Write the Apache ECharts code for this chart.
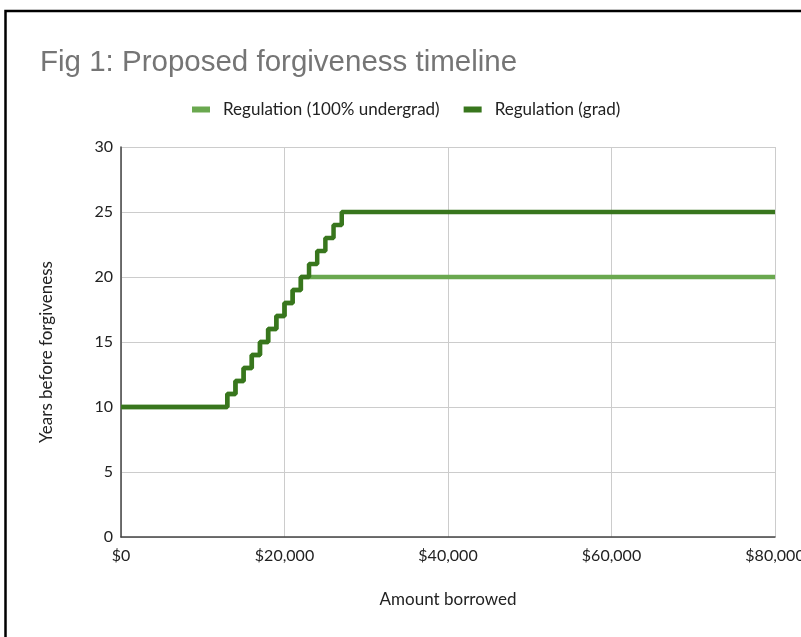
<!DOCTYPE html>
<html><head><meta charset="utf-8">
<script src="https://cdn.jsdelivr.net/npm/echarts@6/dist/echarts.min.js"></script>
<style>html,body{margin:0;padding:0;background:#fff;overflow:hidden;}#c{width:801px;height:637px;}</style>
</head><body><div id="c"></div>
<script>
// Amount borrowed ($) at which each step begins, and years before forgiveness
const undergradX = [0, 13000, 14000, 15000, 16000, 17000, 18000, 19000, 20000, 21000, 22000, 80000];
const undergradY = [10, 11, 12, 13, 14, 15, 16, 17, 18, 19, 20, 20];
const gradX = [0, 13000, 14000, 15000, 16000, 17000, 18000, 19000, 20000, 21000, 22000, 23000, 24000, 25000, 26000, 27000, 80000];
const gradY = [10, 11, 12, 13, 14, 15, 16, 17, 18, 19, 20, 21, 22, 23, 24, 25, 25];
const seriesNames = ['Regulation (100% undergrad)', 'Regulation (grad)'];

const font = 'Lato, "Open Sans", sans-serif';
const chart = echarts.init(document.getElementById('c'));
chart.setOption({
  animation: false,
  backgroundColor: '#fff',
  graphic: [{
    type: 'rect', z: -1, silent: true,
    shape: { x: 5.5, y: 11, width: 900, height: 700 },
    style: { fill: 'none', stroke: '#000', lineWidth: 2.5 }
  }],
  title: {
    text: 'Fig 1: Proposed forgiveness timeline',
    left: 35, top: 43,
    textStyle: { fontFamily: 'Liberation Sans, Arial, sans-serif', fontWeight: 'normal', fontSize: 29.5, color: '#757575' }
  },
  legend: {
    top: 96, left: 187,
    itemWidth: 18, itemHeight: 6, itemGap: 24,
    icon: 'rect',
    textStyle: { fontFamily: font, fontSize: 17, color: '#222', padding: [0, 0, 0, 8] },
    data: seriesNames
  },
  grid: { left: 121, top: 147, right: 26, bottom: 100, containLabel: false, outerBoundsMode: 'none' },
  xAxis: {
    type: 'value', min: 0, max: 80000, interval: 20000,
    name: 'Amount borrowed', nameLocation: 'middle', nameGap: 54,
    nameTextStyle: { fontFamily: font, fontSize: 17, color: '#222' },
    axisLine: { show: true, lineStyle: { color: '#444', width: 1.5 } },
    axisTick: { show: false },
    axisLabel: { fontFamily: font, fontSize: 16, color: '#222', margin: 11, hideOverlap: false,
      formatter: v => '$' + v.toLocaleString('en-US') },
    splitLine: { show: true, lineStyle: { color: '#cccccc', width: 1 } }
  },
  yAxis: {
    type: 'value', min: 0, max: 30, interval: 5,
    name: 'Years before forgiveness', nameLocation: 'middle', nameGap: 66, nameRotate: 90,
    nameTextStyle: { fontFamily: font, fontSize: 17, color: '#222', padding: [0, 20, 0, 0] },
    axisLine: { show: true, lineStyle: { color: '#444', width: 1.5 } },
    axisTick: { show: false },
    axisLabel: { fontFamily: font, fontSize: 16, color: '#222', margin: 8 },
    splitLine: { show: true, lineStyle: { color: '#cccccc', width: 1 } }
  },
  series: [
    {
      name: seriesNames[0], type: 'line', step: 'end', showSymbol: false, symbol: 'none',
      color: '#6aa84f', lineStyle: { width: 4.5, color: '#6aa84f' },
      data: undergradX.map((x, i) => [x, undergradY[i]]), z: 2
    },
    {
      name: seriesNames[1], type: 'line', step: 'end', showSymbol: false, symbol: 'none',
      color: '#38761d', lineStyle: { width: 4.5, color: '#38761d' },
      data: gradX.map((x, i) => [x, gradY[i]]), z: 3
    }
  ]
});
</script></body></html>
